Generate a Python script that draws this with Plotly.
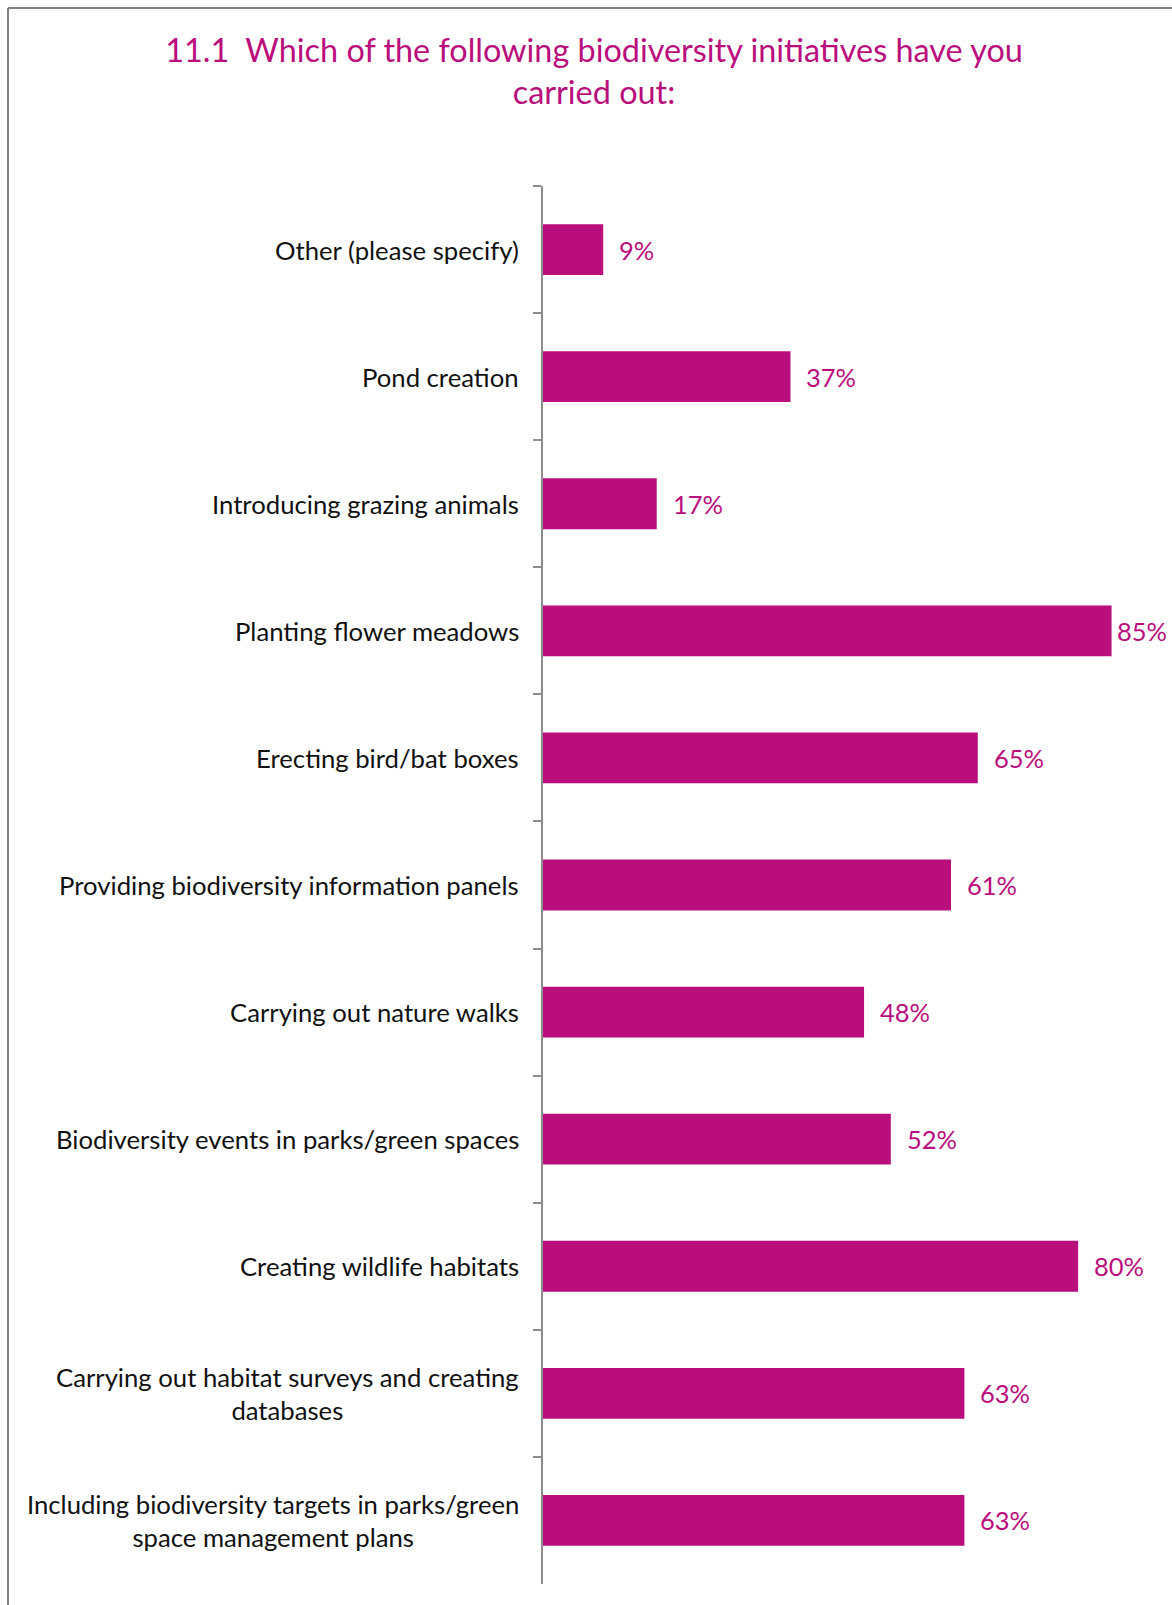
import plotly.graph_objects as go

# Survey question 11.1 — share of respondents carrying out each initiative
categories = [
    "Other (please specify)",
    "Pond creation",
    "Introducing grazing animals",
    "Planting flower meadows",
    "Erecting bird/bat boxes",
    "Providing biodiversity information panels",
    "Carrying out nature walks",
    "Biodiversity events in parks/green spaces",
    "Creating wildlife habitats",
    "Carrying out habitat surveys and creating<br>databases",
    "Including biodiversity targets in parks/green<br>space management plans",
]
values = [9, 37, 17, 85, 65, 61, 48, 52, 80, 63, 63]
value_labels = [f"{v}%" for v in values]

MAGENTA = "#BA0E7D"
GREY = "#8C8C8C"
FONT = "Lato"

W, H = 1172, 1605
M_L, M_R, M_T, M_B = 543, 27, 186, 21
X_MAX = 90

fig = go.Figure()
fig.add_trace(go.Bar(
    x=values,
    y=categories,
    orientation="h",
    marker=dict(color=MAGENTA, line=dict(width=0)),
    width=0.4,
    hoverinfo="skip",
))

annotations = []
# category labels, centred lines, right edge near the axis
for cat in categories:
    annotations.append(dict(
        x=0, xref="paper", y=cat, yref="y",
        text=cat, showarrow=False,
        xanchor="right", yanchor="middle", align="center",
        xshift=-22,
        font=dict(family=FONT, size=25.7, color="#111111"),
    ))
# value labels just past the end of each bar
for cat, v, lab in zip(categories, values, value_labels):
    annotations.append(dict(
        x=v, xref="x", y=cat, yref="y",
        text=lab, showarrow=False,
        xanchor="left", yanchor="middle",
        xshift=3 if v >= 85 else 14,
        font=dict(family=FONT, size=25.5, color=MAGENTA),
    ))

pw = W - M_L - M_R
ph = H - M_T - M_B
# frame around the chart (left and top edges)
fx0 = (8 - M_L) / pw
fy1 = 1 + (M_T - 8) / ph
fy0 = -M_B / ph - 0.01
fx1 = 1 + (M_R + 5) / pw

fig.update_layout(
    width=W, height=H,
    margin=dict(l=M_L, r=M_R, t=M_T, b=M_B),
    paper_bgcolor="white", plot_bgcolor="white",
    showlegend=False,
    title=dict(
        text="11.1  Which of the following biodiversity initiatives have you<br>carried out:",
        x=(594) / W, xanchor="center",
        y=1 - 62 / H, yanchor="middle",
        font=dict(family=FONT, size=32.4, color=MAGENTA),
    ),
    xaxis=dict(
        range=[0, X_MAX], visible=False, fixedrange=True,
    ),
    yaxis=dict(
        autorange="reversed",
        showticklabels=False,
        showline=True, linecolor=GREY, linewidth=2,
        ticks="outside", tickson="boundaries", ticklen=8,
        tickcolor=GREY, tickwidth=2,
        showgrid=False, zeroline=False,
    ),
    annotations=annotations,
    shapes=[
        dict(type="line", xref="paper", yref="paper",
             x0=fx0, x1=fx0, y0=fy0, y1=fy1,
             line=dict(color="#808080", width=2)),
        dict(type="line", xref="paper", yref="paper",
             x0=fx0, x1=fx1, y0=fy1, y1=fy1,
             line=dict(color="#808080", width=2)),
    ],
)

fig.write_html("out.html")
